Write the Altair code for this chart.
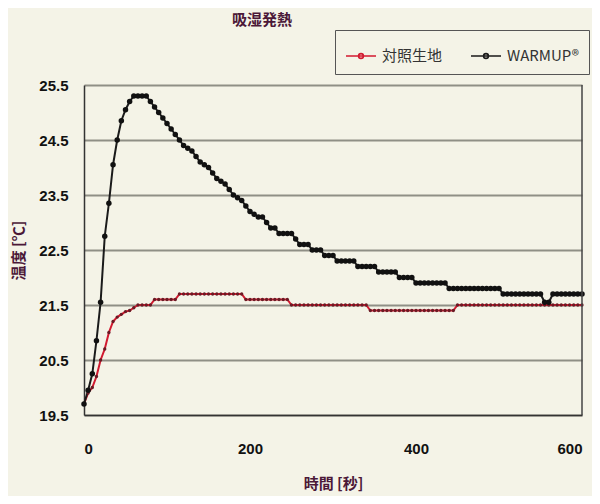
import altair as alt
import pandas as pd

series_names = ["対照生地", "WARMUP®"]

time_s = list(range(0, 605, 5))

control_temp = [
    19.7, 19.9, 20.0, 20.2, 20.5, 20.7, 21.0, 21.2, 21.28, 21.33, 21.38, 21.4, 21.45,
    21.5, 21.5, 21.5, 21.5,
    21.6, 21.6, 21.6, 21.6, 21.6, 21.6,
    21.7, 21.7, 21.7, 21.7, 21.7, 21.7, 21.7, 21.7, 21.7, 21.7, 21.7, 21.7, 21.7, 21.7, 21.7, 21.7,
    21.6, 21.6, 21.6, 21.6, 21.6, 21.6, 21.6, 21.6, 21.6, 21.6, 21.6,
    21.5, 21.5, 21.5, 21.5, 21.5, 21.5, 21.5, 21.5, 21.5, 21.5, 21.5, 21.5, 21.5, 21.5, 21.5, 21.5, 21.5, 21.5, 21.5,
    21.4, 21.4, 21.4, 21.4, 21.4, 21.4, 21.4, 21.4, 21.4, 21.4, 21.4, 21.4, 21.4, 21.4, 21.4, 21.4, 21.4, 21.4, 21.4, 21.4, 21.4,
    21.5, 21.5, 21.5, 21.5, 21.5, 21.5, 21.5, 21.5, 21.5, 21.5, 21.5, 21.5, 21.5, 21.5, 21.5, 21.5,
    21.5, 21.5, 21.5, 21.5, 21.5, 21.5, 21.5, 21.5, 21.5, 21.5, 21.5, 21.5, 21.5, 21.5, 21.5,
]

warmup_temp = [
    19.7, 19.95, 20.25, 20.85, 21.55, 22.75, 23.35, 24.05, 24.5, 24.85, 25.05, 25.2,
    25.3, 25.3, 25.3, 25.3,
    25.2, 25.1, 25.0, 24.9, 24.8, 24.7, 24.6, 24.5, 24.4, 24.35, 24.3, 24.2, 24.1, 24.05,
    24.0, 23.9, 23.8, 23.75, 23.7, 23.6, 23.5, 23.45, 23.4, 23.3, 23.2, 23.15, 23.1, 23.1,
    23.0, 22.9, 22.9, 22.8, 22.8, 22.8, 22.8, 22.7, 22.6, 22.6, 22.6, 22.5, 22.5, 22.5,
    22.4, 22.4, 22.4, 22.3, 22.3, 22.3, 22.3, 22.3, 22.2, 22.2, 22.2, 22.2, 22.2,
    22.1, 22.1, 22.1, 22.1, 22.1, 22.0, 22.0, 22.0, 22.0,
    21.9, 21.9, 21.9, 21.9, 21.9, 21.9, 21.9, 21.9,
    21.8, 21.8, 21.8, 21.8, 21.8, 21.8, 21.8, 21.8, 21.8, 21.8, 21.8, 21.8, 21.8,
    21.7, 21.7, 21.7, 21.7, 21.7, 21.7, 21.7, 21.7, 21.7, 21.7,
    21.55, 21.55,
    21.7, 21.7, 21.7, 21.7, 21.7, 21.7, 21.7, 21.7,
]

y_ticks = [19.5, 20.5, 21.5, 22.5, 23.5, 24.5, 25.5]
x_ticks = [0, 200, 400, 600]

df = pd.concat([
    pd.DataFrame({"time": time_s, "temp": control_temp, "series": series_names[0]}),
    pd.DataFrame({"time": time_s, "temp": warmup_temp, "series": series_names[1]}),
])

BG = "#F4F3E7"
JP = "Noto Sans CJK JP"
NUM = "Liberation Sans"

x_enc = alt.X(
    "time:Q",
    scale=alt.Scale(domain=[0, 600], nice=False),
    axis=alt.Axis(
        values=x_ticks, title="時間 [秒]", grid=False, ticks=False,
        labelFont=NUM, labelFontSize=15, labelFontWeight="bold", labelColor="#111",
        labelPadding=26, domainColor="#333", domainWidth=1.5,
        titleFont=JP, titleFontSize=15, titleFontWeight="bold", titleColor="#4b1838",
        titlePadding=20,
    ),
)
y_enc = alt.Y(
    "temp:Q",
    scale=alt.Scale(domain=[19.5, 25.5], nice=False, zero=False),
    axis=alt.Axis(
        values=y_ticks, format=".1f", title="温度 [℃]", grid=True, ticks=False,
        gridColor="#8f8f86", gridWidth=2,
        labelFont=NUM, labelFontSize=15, labelFontWeight="bold", labelColor="#111",
        labelPadding=16, domainColor="#333", domainWidth=1.5,
        titleFont=JP, titleFontSize=15, titleFontWeight="bold", titleColor="#4b1838",
        titlePadding=12,
    ),
)

legend_symbol = "M-1,0H1M-0.16,0A0.16,0.16,0,1,1,0.16,0A0.16,0.16,0,1,1,-0.16,0Z"

lines = alt.Chart(df).mark_line(strokeWidth=2).encode(
    x=x_enc,
    y=y_enc,
    color=alt.Color(
        "series:N",
        scale=alt.Scale(domain=series_names, range=["#d21a30", "#1a1a1a"]),
        legend=alt.Legend(
            title=None, orient="none", legendX=251, legendY=-55, direction="horizontal",
            symbolType=legend_symbol, symbolSize=900, symbolStrokeWidth=1.6,
            labelFont=JP, labelFontSize=15, labelColor="#333", labelOffset=5,
            columnPadding=24, padding=10, strokeColor="#555", fillColor=BG,
        ),
    ),
)

control_points = alt.Chart(df).transform_filter(
    alt.datum.series == series_names[0]
).mark_point(filled=True, opacity=1, size=11, color="#6a1a24").encode(
    x="time:Q", y="temp:Q"
)

warmup_points = alt.Chart(df).transform_filter(
    alt.datum.series == series_names[1]
).mark_point(filled=True, opacity=1, size=30, color="#111111").encode(
    x="time:Q", y="temp:Q"
)

right_border = alt.Chart(pd.DataFrame({"k": [0]})).mark_rule(color="#444", strokeWidth=1.5).encode(
    x=alt.value(498), y=alt.value(0), y2=alt.value(330)
)

chart = alt.layer(lines, control_points, warmup_points, right_border).properties(
    width=498,
    height=330,
    background=BG,
    padding={"left": 76, "top": 77, "right": 10, "bottom": 81},
    autosize=alt.AutoSizeParams(type="none"),
    title=alt.TitleParams(
        "吸湿発熱", anchor="start", frame="group", dx=148, offset=2,
        font=JP, fontSize=15, fontWeight="bold", color="#4b1838",
    ),
).configure_view(stroke=None)

chart.save("out.html", embed_options={"renderer": "svg", "actions": False})
